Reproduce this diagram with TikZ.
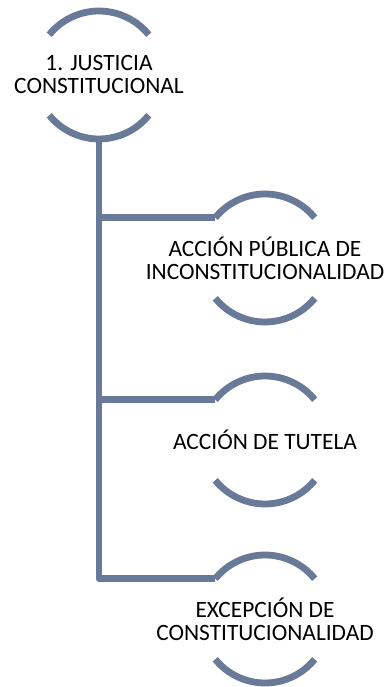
\documentclass[tikz,border=0pt]{standalone}
\usepackage{fontspec}
\setmainfont{Carlito}
\definecolor{lc}{RGB}{104,122,152}
\begin{document}
\begin{tikzpicture}[x=1pt,y=1pt,
  lbl/.style={align=center, font=\fontsize{23.4}{23}\selectfont, inner sep=0pt, text=black},
  ring/.style={draw=lc, line width=6.8pt},
  conn/.style={draw=lc, line width=6.8pt, line join=round}]
\useasboundingbox (0,0) rectangle (389,687);
\node[lbl] (n1) at (99,612) {1. JUSTICIA\\CONSTITUCIONAL};
\node[lbl] (n2) at (265,429) {ACCIÓN PÚBLICA DE\\INCONSTITUCIONALIDAD};
\node[lbl] (n3) at (265,247) {ACCIÓN DE TUTELA};
\node[lbl] (n4) at (265,68) {EXCEPCIÓN DE\\CONSTITUCIONALIDAD};
\foreach \n in {n1,n2,n3,n4}{
  \draw[ring] ([shift={(141:64pt)}]\n.center) arc[start angle=141, end angle=39, radius=64pt];
  \draw[ring] ([shift={(219:64pt)}]\n.center) arc[start angle=219, end angle=321, radius=64pt];
}
\coordinate (s) at ([yshift=-64pt]n1.center);
\draw[conn] (s) |- ([shift={(141:64pt)}]n4.center);
\draw[conn] (s) |- ([shift={(141:64pt)}]n3.center);
\draw[conn] (s) |- ([shift={(141:64pt)}]n2.center);
\end{tikzpicture}
\end{document}
